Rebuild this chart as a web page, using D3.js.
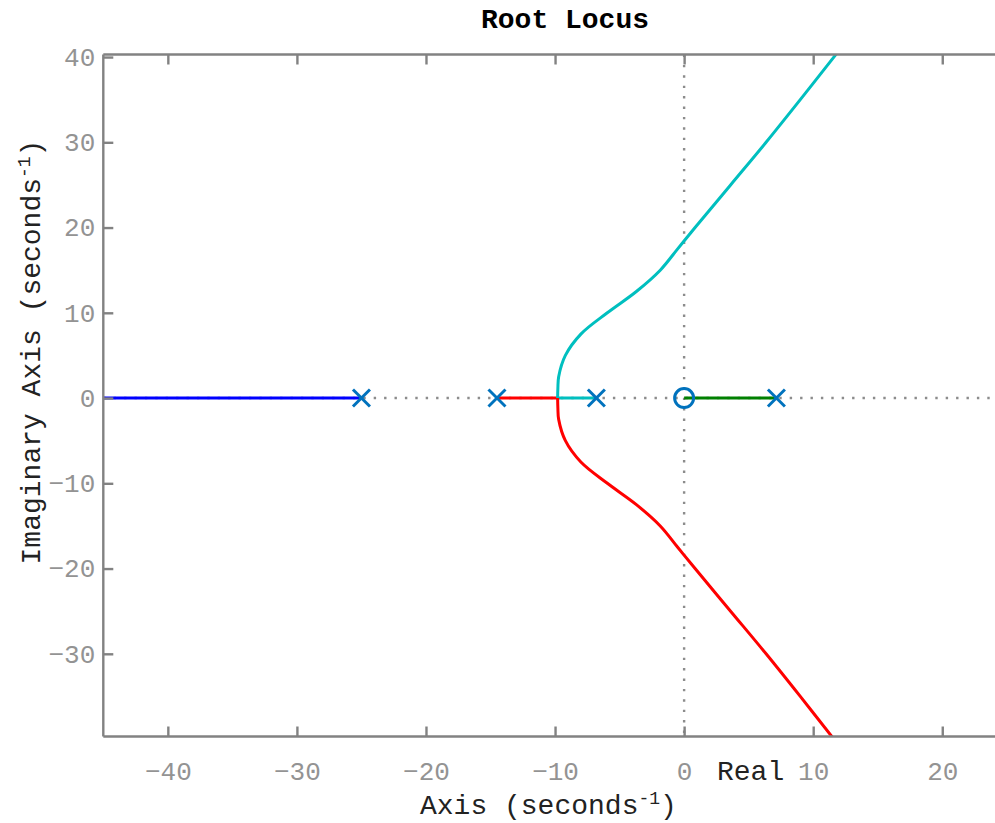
<!DOCTYPE html>
<html>
<head>
<meta charset="utf-8">
<script src="https://cdn.jsdelivr.net/npm/d3@7"></script>
<style>
  body { margin: 0; background: #fff; }
  svg { display: block; }
  text { font-family: "Liberation Mono", "Courier New", monospace; }
</style>
</head>
<body>
<div id="chart"></div>
<script>
// poles and zeros of the open loop system
var poles = [-25.0, -14.5, -6.8, 7.15];
var zerosRe = [0];

// branches (real part / imaginary part)
var blueRe = [-25.0, -50];
var blueIm = [0, 0];
var greenRe = [0, 7.15];
var greenIm = [0, 0];
var redAxisRe = [-14.5, -9.8];
var cyanAxisRe = [-6.8, -9.8];
var cyanRe = [-9.8, -9.78, -9.72, -9.2, -8.0, -5.95, -3.7, -1.85, -0.5, 0.85, 3.6, 6.35, 9.0, 11.6, 12.64];
var cyanIm = [0, 1.2, 2.5, 5, 7.5, 10, 12.5, 15, 17.5, 20, 25, 30, 35, 40, 42];
var redRe = [-9.8, -9.78, -9.72, -9.2, -8.0, -5.95, -3.7, -1.85, -0.5, 0.85, 3.6, 6.35, 9.0, 11.6, 12.64];
var redIm = [0, -1.2, -2.5, -5, -7.5, -10, -12.5, -15, -17.5, -20, -25, -30, -35, -40, -42];

var xTicks = [-40, -30, -20, -10, 0, 10, 20];
var yTicks = [-30, -20, -10, 0, 10, 20, 30, 40];

var W = 995, H = 823;
var margin = {top: 54.5, left: 103.3};
var plotW = 903.5, plotH = 682;

var svg = d3.select("#chart").append("svg")
    .attr("width", W)
    .attr("height", H);

var x = d3.scaleLinear().domain([-45, 25]).range([margin.left, margin.left + plotW]);
var y = d3.scaleLinear().domain([-39.7, 40.3]).range([margin.top + plotH, margin.top]);

svg.append("defs").append("clipPath").attr("id", "clip")
    .append("rect")
    .attr("x", margin.left).attr("y", margin.top)
    .attr("width", plotW).attr("height", plotH);

var axisColor = "#828282";

// dotted zero lines
var grid = svg.append("g").attr("clip-path", "url(#clip)");
grid.append("line")
    .attr("x1", x(-45)).attr("x2", x(25))
    .attr("y1", y(0)).attr("y2", y(0))
    .attr("stroke", "#8c8c8c").attr("stroke-width", 2.4)
    .attr("stroke-dasharray", "2.4,8");
grid.append("line")
    .attr("x1", x(0)).attr("x2", x(0))
    .attr("y1", y(40.3)).attr("y2", y(-39.7))
    .attr("stroke", "#8c8c8c").attr("stroke-width", 2.4)
    .attr("stroke-dasharray", "2.4,8");

// branches
var plot = svg.append("g").attr("clip-path", "url(#clip)");
var lin = d3.line().x(function (d) { return x(d[0]); }).y(function (d) { return y(d[1]); });
var smooth = d3.line().x(function (d) { return x(d[0]); }).y(function (d) { return y(d[1]); })
    .curve(d3.curveCatmullRom.alpha(0.5));

function zip(re, im) {
    return re.map(function (v, i) { return [v, im[i]]; });
}

var branches = [
    {pts: zip(blueRe, blueIm), color: "#0000ff", gen: lin},
    {pts: zip(greenRe, greenIm), color: "#008000", gen: lin},
    {pts: zip(redAxisRe, [0, 0]), color: "#ff0000", gen: lin},
    {pts: zip(cyanAxisRe, [0, 0]), color: "#00bfbf", gen: lin},
    {pts: zip(cyanRe, cyanIm), color: "#00bfbf", gen: smooth},
    {pts: zip(redRe, redIm), color: "#ff0000", gen: smooth}
];

plot.selectAll("path.branch")
    .data(branches)
    .enter().append("path")
    .attr("class", "branch")
    .attr("d", function (d) { return d.gen(d.pts); })
    .attr("fill", "none")
    .attr("stroke", function (d) { return d.color; })
    .attr("stroke-width", 3);

// pole / zero markers
var mk = "#0072bd";
var s = 8.5;
var px = plot.selectAll("g.pole").data(poles).enter().append("g")
    .attr("class", "pole")
    .attr("transform", function (d) { return "translate(" + x(d) + "," + y(0) + ")"; });
px.append("line").attr("x1", -s).attr("y1", -s).attr("x2", s).attr("y2", s);
px.append("line").attr("x1", -s).attr("y1", s).attr("x2", s).attr("y2", -s);
px.selectAll("line").attr("stroke", mk).attr("stroke-width", 3);

plot.selectAll("circle.zero").data(zerosRe).enter().append("circle")
    .attr("class", "zero")
    .attr("cx", function (d) { return x(d); })
    .attr("cy", y(0))
    .attr("r", 9.5)
    .attr("fill", "none")
    .attr("stroke", mk)
    .attr("stroke-width", 3);

// axes box lines
var ax = svg.append("g");
ax.append("line").attr("x1", margin.left).attr("x2", margin.left)
    .attr("y1", margin.top).attr("y2", margin.top + plotH);
ax.append("line").attr("x1", margin.left).attr("x2", W)
    .attr("y1", margin.top).attr("y2", margin.top);
ax.append("line").attr("x1", margin.left).attr("x2", W)
    .attr("y1", margin.top + plotH).attr("y2", margin.top + plotH);
ax.selectAll("line").attr("stroke", axisColor).attr("stroke-width", 2.4);

var fmt = function (d) { return d < 0 ? "\u2212" + Math.abs(d) : String(d); };

var xAxis = d3.axisBottom(x).tickValues(xTicks).tickSize(-10).tickPadding(22).tickFormat(fmt);
var xTop = d3.axisTop(x).tickValues(xTicks).tickSize(-10).tickFormat("");
var yAxis = d3.axisLeft(y).tickValues(yTicks).tickSize(-10).tickPadding(8).tickFormat(fmt);

var gx = svg.append("g").attr("transform", "translate(0," + (margin.top + plotH) + ")").call(xAxis);
var gxt = svg.append("g").attr("transform", "translate(0," + margin.top + ")").call(xTop);
var gy = svg.append("g").attr("transform", "translate(" + margin.left + ",0)").call(yAxis);

[gx, gxt, gy].forEach(function (g) {
    g.select(".domain").remove();
    g.selectAll(".tick line").attr("stroke", axisColor).attr("stroke-width", 2.4);
    g.selectAll(".tick text")
        .attr("fill", "#939393")
        .style("font-family", "Liberation Mono, monospace")
        .style("font-size", "26px");
});
gx.selectAll(".tick text").attr("dy", "0.32em").attr("y", 35);

// labels
svg.append("text")
    .attr("x", 565).attr("y", 28)
    .attr("text-anchor", "middle")
    .style("font-size", "28px").style("font-weight", "bold")
    .attr("fill", "#000")
    .text("Root Locus");

svg.append("text")
    .attr("x", 717).attr("y", 780)
    .style("font-size", "28px")
    .attr("fill", "#222")
    .text("Real");

var xl = svg.append("text")
    .attr("x", 420).attr("y", 814)
    .style("font-size", "28px")
    .attr("fill", "#222");
xl.append("tspan").text("Axis (seconds");
xl.append("tspan").attr("dy", -10).style("font-size", "18px").text("-1");
xl.append("tspan").attr("dy", 10).text(")");

var yl = svg.append("text")
    .attr("transform", "translate(40,352) rotate(-90)")
    .attr("text-anchor", "middle")
    .style("font-size", "28px")
    .attr("fill", "#222");
yl.append("tspan").text("Imaginary Axis (seconds");
yl.append("tspan").attr("dy", -10).style("font-size", "18px").text("-1");
yl.append("tspan").attr("dy", 10).text(")");
</script>
</body>
</html>
